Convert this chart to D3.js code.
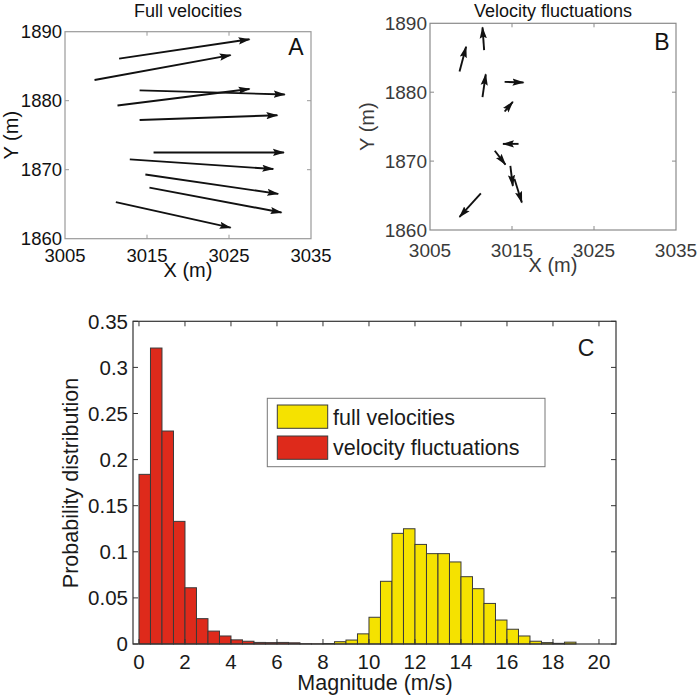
<!DOCTYPE html>
<html>
<head>
<meta charset="utf-8">
<script src="https://cdn.jsdelivr.net/npm/d3@7"></script>
<style>
  body { margin: 0; background: #fff; }
  svg { font-family: "Liberation Sans", Arial, sans-serif; }
</style>
</head>
<body>
<svg id="chart" width="697" height="695"></svg>
<script>
// arrow tails (same points in A and B)
const tailX = [3011.6, 3008.6, 3011.4, 3014.1, 3014.1, 3015.8, 3012.9, 3014.8, 3015.3, 3011.2];
const tailY = [1886.1, 1883.0, 1879.3, 1881.5, 1877.2, 1872.5, 1871.5, 1869.3, 1867.4, 1865.3];
// full velocity vectors (as drawn, metres)
const fullU = [15.9, 16.6, 16.1, 17.7, 16.8, 15.9, 17.5, 16.2, 16.1, 14.0];
const fullV = [2.8, 3.6, 2.4, -0.6, 0.7, 0.0, -1.4, -2.8, -3.6, -3.7];
// fluctuation vectors
const flucU = [-0.2, 0.8, 0.4, 2.3, 1.0, -1.9, 1.3, 0.3, 0.9, -2.6];
const flucV = [3.3, 3.6, 3.3, -0.1, 1.4, 0.0, -2.0, -2.9, -3.4, -3.4];

const quiverXTicks = [3005, 3015, 3025, 3035];
const quiverYTicks = [1860, 1870, 1880, 1890];

// histogram bins (left edges, m/s)
const binLeft = [0, 0.5, 1, 1.5, 2, 2.5, 3, 3.5, 4, 4.5, 5, 5.5, 6, 6.5, 7, 7.5, 8, 8.5, 9, 9.5,
  10, 10.5, 11, 11.5, 12, 12.5, 13, 13.5, 14, 14.5, 15, 15.5, 16, 16.5, 17, 17.5, 18, 18.5, 19, 19.5];
const fullProb = [0, 0, 0, 0, 0, 0, 0, 0, 0, 0, 0, 0, 0, 0, 0, 0, 0.0005, 0.0025, 0.0043, 0.011,
  0.029, 0.068, 0.120, 0.125, 0.108, 0.098, 0.098, 0.089, 0.073, 0.060, 0.044, 0.026, 0.016, 0.0087, 0.003, 0.0015, 0.0007, 0.002, 0, 0];
const flucProb = [0.184, 0.321, 0.231, 0.133, 0.061, 0.0275, 0.014, 0.0087, 0.0045, 0.003, 0.0017, 0.0015, 0.0017, 0.0013, 0.0003, 0.0002, 0, 0, 0, 0,
  0, 0, 0, 0, 0, 0, 0, 0, 0, 0, 0, 0, 0, 0, 0, 0, 0, 0, 0, 0];
const histXTicks = [0, 2, 4, 6, 8, 10, 12, 14, 16, 18, 20];
const histYTicks = [0, 0.05, 0.1, 0.15, 0.2, 0.25, 0.3, 0.35];

const svg = d3.select(`#chart`);

svg.append(`defs`).append(`marker`)
  .attr(`id`, `head`)
  .attr(`markerUnits`, `userSpaceOnUse`)
  .attr(`markerWidth`, 13).attr(`markerHeight`, 10)
  .attr(`viewBox`, `0 -5 13 10`)
  .attr(`refX`, 11).attr(`refY`, 0)
  .attr(`orient`, `auto`)
  .append(`path`)
  .attr(`d`, `M0,-3.6 L12,0 L0,3.6 L2,0 Z`)
  .attr(`fill`, `#111`);

const quiver = (opts) => {
  const x = d3.scaleLinear().domain([3005, 3035]).range([opts.left, opts.right]);
  const y = d3.scaleLinear().domain([1860, 1890]).range([opts.bottom, opts.top]);
  const g = svg.append(`g`);

  g.append(`rect`)
    .attr(`x`, opts.left).attr(`y`, opts.top)
    .attr(`width`, opts.right - opts.left).attr(`height`, opts.bottom - opts.top)
    .attr(`fill`, `none`).attr(`stroke`, opts.frame).attr(`stroke-width`, 1.2);

  // inner ticks
  quiverXTicks.slice(1, -1).forEach(t => {
    g.append(`line`).attr(`x1`, x(t)).attr(`x2`, x(t)).attr(`y1`, opts.bottom).attr(`y2`, opts.bottom - 4).attr(`stroke`, opts.frame);
    g.append(`line`).attr(`x1`, x(t)).attr(`x2`, x(t)).attr(`y1`, opts.top).attr(`y2`, opts.top + 4).attr(`stroke`, opts.frame);
  });
  quiverYTicks.slice(1, -1).forEach(t => {
    g.append(`line`).attr(`x1`, opts.left).attr(`x2`, opts.left + 4).attr(`y1`, y(t)).attr(`y2`, y(t)).attr(`stroke`, opts.frame);
    g.append(`line`).attr(`x1`, opts.right).attr(`x2`, opts.right - 4).attr(`y1`, y(t)).attr(`y2`, y(t)).attr(`stroke`, opts.frame);
  });

  g.selectAll(`.xt`).data(quiverXTicks).enter().append(`text`)
    .attr(`x`, d => x(d)).attr(`y`, opts.xTickY)
    .attr(`text-anchor`, `middle`).attr(`font-size`, opts.tickSize).attr(`fill`, opts.text)
    .text(d => d);
  g.selectAll(`.yt`).data(quiverYTicks).enter().append(`text`)
    .attr(`x`, opts.left - 3).attr(`y`, d => y(d)).attr(`dy`, `0.36em`)
    .attr(`text-anchor`, `end`).attr(`font-size`, opts.tickSize).attr(`fill`, opts.text)
    .text(d => d);

  g.append(`text`).attr(`x`, (opts.left + opts.right) / 2).attr(`y`, opts.xLabelY)
    .attr(`text-anchor`, `middle`).attr(`font-size`, 20).attr(`fill`, opts.text).text(`X (m)`);
  g.append(`text`).attr(`transform`, `translate(${opts.yLabelX},${(opts.top + opts.bottom) / 2}) rotate(-90)`)
    .attr(`text-anchor`, `middle`).attr(`dy`, `0.36em`).attr(`font-size`, 20).attr(`fill`, opts.text).text(`Y (m)`);
  g.append(`text`).attr(`x`, opts.titleX).attr(`y`, 17)
    .attr(`text-anchor`, `middle`).attr(`font-size`, 18).attr(`fill`, `#111`).text(opts.title);
  g.append(`text`).attr(`x`, opts.letterX).attr(`y`, opts.letterY)
    .attr(`text-anchor`, `middle`).attr(`font-size`, 23).attr(`fill`, `#111`).text(opts.letter);

  g.selectAll(`.arrow`).data(tailX).enter().append(`line`)
    .attr(`x1`, (d, i) => x(tailX[i]))
    .attr(`y1`, (d, i) => y(tailY[i]))
    .attr(`x2`, (d, i) => x(tailX[i] + opts.u[i]))
    .attr(`y2`, (d, i) => y(tailY[i] + opts.v[i]))
    .attr(`stroke`, `#111`).attr(`stroke-width`, 1.9)
    .attr(`marker-end`, `url(#head)`);
};

quiver({
  left: 65, right: 311, top: 31.7, bottom: 238.7,
  frame: `#9a9a9a`, text: `#111`, tickSize: 18.5,
  xTickY: 262, xLabelY: 277, yLabelX: 11,
  title: `Full velocities`, titleX: 188, letter: `A`, letterX: 296, letterY: 55,
  u: fullU, v: fullV
});

quiver({
  left: 430, right: 676, top: 23.3, bottom: 230,
  frame: `#8a8a8a`, text: `#3a3a3a`, tickSize: 19,
  xTickY: 257, xLabelY: 272, yLabelX: 367,
  title: `Velocity fluctuations`, titleX: 553, letter: `B`, letterX: 662, letterY: 50,
  u: flucU, v: flucV
});

// histogram
const hl = 133, hr = 616, ht = 321.3, hb = 644;
const hx = d3.scaleLinear().domain([-0.26, 20.74]).range([hl, hr]);
const hy = d3.scaleLinear().domain([0, 0.35]).range([hb, ht]);
const bw = 0.5;
const hg = svg.append(`g`);

const bars = (vals, color) => {
  hg.selectAll(null).data(binLeft.map((d, i) => ({x: d, v: vals[i]})).filter(d => d.v > 0))
    .enter().append(`rect`)
    .attr(`x`, d => hx(d.x)).attr(`width`, d => hx(d.x + bw) - hx(d.x))
    .attr(`y`, d => hy(d.v)).attr(`height`, d => hy(0) - hy(d.v))
    .attr(`fill`, color).attr(`stroke`, `#3a3a3a`).attr(`stroke-width`, 1);
};
bars(fullProb, `#f5e200`);
bars(flucProb, `#de2a1b`);

hg.append(`rect`).attr(`x`, hl).attr(`y`, ht).attr(`width`, hr - hl).attr(`height`, hb - ht)
  .attr(`fill`, `none`).attr(`stroke`, `#333`).attr(`stroke-width`, 1.2);

histXTicks.forEach(t => {
  hg.append(`line`).attr(`x1`, hx(t)).attr(`x2`, hx(t)).attr(`y1`, hb).attr(`y2`, hb - 5).attr(`stroke`, `#333`);
  hg.append(`line`).attr(`x1`, hx(t)).attr(`x2`, hx(t)).attr(`y1`, ht).attr(`y2`, ht + 5).attr(`stroke`, `#333`);
});
histYTicks.forEach(t => {
  hg.append(`line`).attr(`x1`, hl).attr(`x2`, hl + 5).attr(`y1`, hy(t)).attr(`y2`, hy(t)).attr(`stroke`, `#333`);
  hg.append(`line`).attr(`x1`, hr).attr(`x2`, hr - 5).attr(`y1`, hy(t)).attr(`y2`, hy(t)).attr(`stroke`, `#333`);
});

hg.selectAll(`.hxt`).data(histXTicks).enter().append(`text`)
  .attr(`x`, d => hx(d)).attr(`y`, 669)
  .attr(`text-anchor`, `middle`).attr(`font-size`, 20.5).attr(`fill`, `#1a1a1a`).text(d => d);
hg.selectAll(`.hyt`).data(histYTicks).enter().append(`text`)
  .attr(`x`, 128).attr(`y`, d => hy(d)).attr(`dy`, `0.36em`)
  .attr(`text-anchor`, `end`).attr(`font-size`, 20.5).attr(`fill`, `#1a1a1a`).text(d => d);

hg.append(`text`).attr(`x`, 375).attr(`y`, 690)
  .attr(`text-anchor`, `middle`).attr(`font-size`, 21.5).attr(`fill`, `#1a1a1a`).text(`Magnitude (m/s)`);
hg.append(`text`).attr(`transform`, `translate(70,483) rotate(-90)`)
  .attr(`text-anchor`, `middle`).attr(`dy`, `0.36em`).attr(`font-size`, 21.5).attr(`fill`, `#1a1a1a`).text(`Probability distribution`);
hg.append(`text`).attr(`x`, 586).attr(`y`, 356)
  .attr(`text-anchor`, `middle`).attr(`font-size`, 23).attr(`fill`, `#1a1a1a`).text(`C`);

// legend
const legend = hg.append(`g`);
legend.append(`rect`).attr(`x`, 267.3).attr(`y`, 398.3).attr(`width`, 277.7).attr(`height`, 68.4)
  .attr(`fill`, `#fff`).attr(`stroke`, `#777`).attr(`stroke-width`, 1);
[[`full velocities`, `#f5e200`], [`velocity fluctuations`, `#de2a1b`]].forEach(([label, color], i) => {
  legend.append(`rect`).attr(`x`, 277.3).attr(`y`, 405 + i * 31).attr(`width`, 50.4).attr(`height`, 23.3)
    .attr(`fill`, color).attr(`stroke`, `#3a3a3a`);
  legend.append(`text`).attr(`x`, 333).attr(`y`, 417 + i * 30).attr(`dy`, `0.36em`)
    .attr(`font-size`, 21.5).attr(`fill`, `#1a1a1a`).text(label);
});
</script>
</body>
</html>
